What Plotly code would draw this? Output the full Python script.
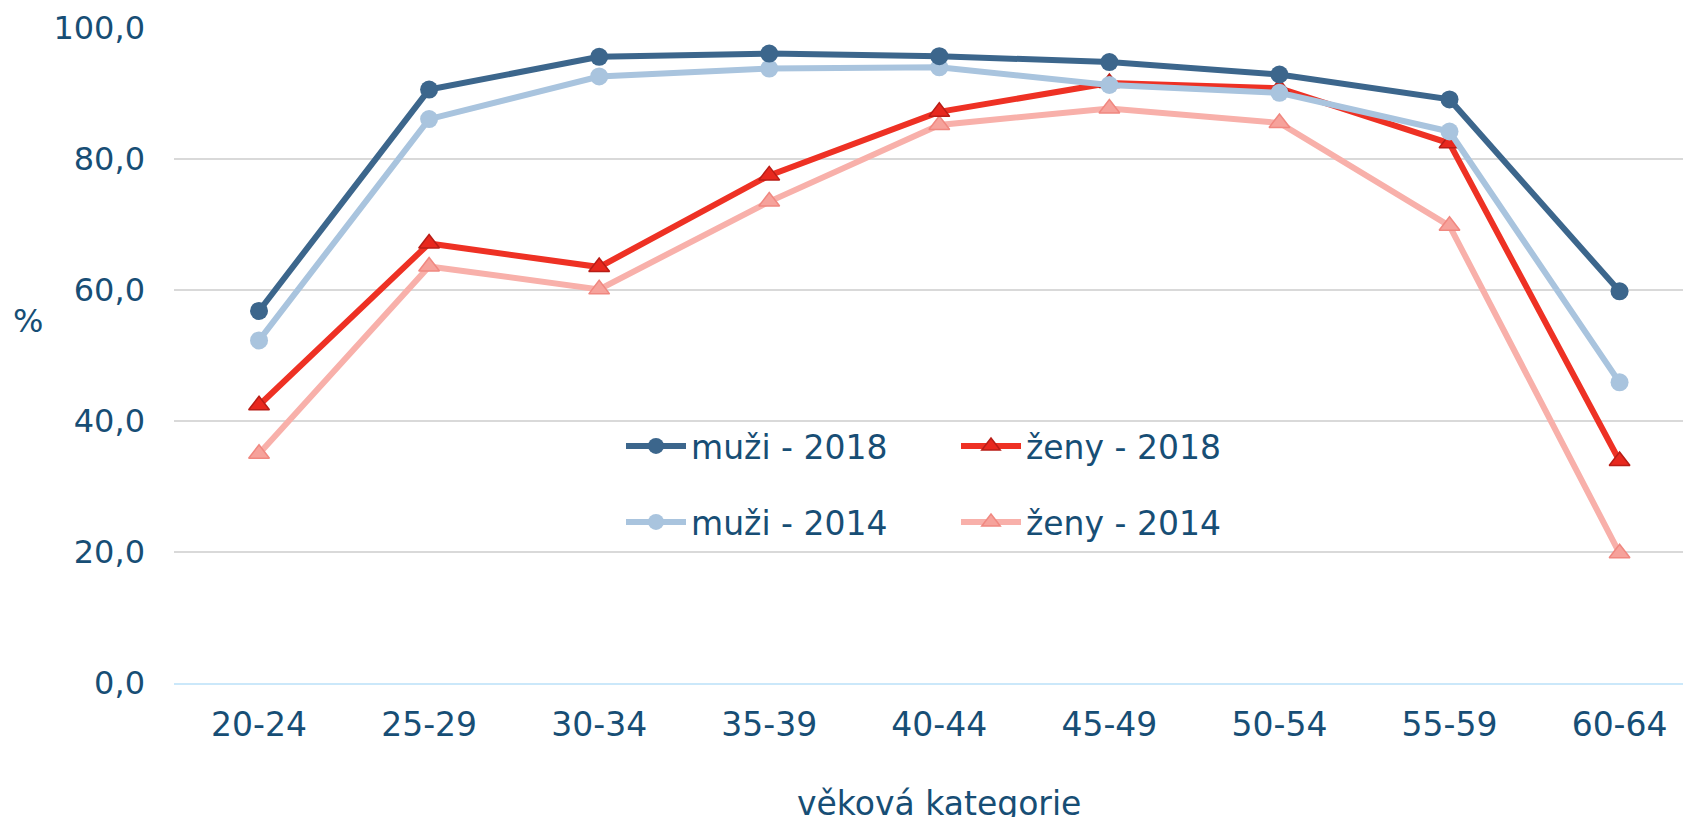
import plotly.graph_objects as go

categories = ["20-24", "25-29", "30-34", "35-39", "40-44", "45-49", "50-54", "55-59", "60-64"]
muzi_2018 = [56.8, 90.6, 95.6, 96.1, 95.7, 94.8, 92.9, 89.1, 59.8]
zeny_2018 = [42.4, 67.1, 63.5, 77.5, 87.2, 91.6, 90.8, 82.4, 33.9]
muzi_2014 = [52.3, 86.1, 92.6, 93.8, 94.0, 91.3, 90.1, 84.2, 45.9]
zeny_2014 = [35.0, 63.6, 60.1, 73.5, 85.2, 87.7, 85.5, 69.8, 19.8]
y_ticks = [0, 20, 40, 60, 80, 100]

# page body has an 8px margin -> figure is sized/offset to fill the window
W, H = 1683, 809
L, T, B = 166, 20, 134
PW, PH = W - L, H - T - B
FONT = "DejaVu Sans"
TXT = "#174E75"
FS = 33
FSY = 32

fig = go.Figure()

fig.add_trace(go.Scatter(
    x=categories, y=zeny_2014, name="ženy - 2014", mode="lines+markers",
    line=dict(color="#F8B0AA", width=6),
    marker=dict(symbol="triangle-up", size=18, color="#F6A29B",
                line=dict(color="#F08880", width=1.5)),
    legend="legend2", legendrank=2, cliponaxis=False))
fig.add_trace(go.Scatter(
    x=categories, y=zeny_2018, name="ženy - 2018", mode="lines+markers",
    line=dict(color="#EE3124", width=6),
    marker=dict(symbol="triangle-up", size=18, color="#E8281E",
                line=dict(color="#B81D16", width=1.5)),
    legend="legend", legendrank=2, cliponaxis=False))
fig.add_trace(go.Scatter(
    x=categories, y=muzi_2014, name="muži - 2014", mode="lines+markers",
    line=dict(color="#A9C4DE", width=6),
    marker=dict(symbol="circle", size=18, color="#A9C4DE"),
    legend="legend2", legendrank=1, cliponaxis=False))
fig.add_trace(go.Scatter(
    x=categories, y=muzi_2018, name="muži - 2018", mode="lines+markers",
    line=dict(color="#3C668C", width=6),
    marker=dict(symbol="circle", size=18, color="#3C668C"),
    legend="legend", legendrank=1, cliponaxis=False))

leg_common = dict(
    orientation="h", xref="container", yref="container",
    xanchor="left", yanchor="middle",
    font=dict(family=FONT, size=FS, color=TXT),
    bgcolor="rgba(0,0,0,0)", itemwidth=60, entrywidth=260,
    traceorder="normal")

fig.update_layout(
    width=W, height=H,
    margin=dict(l=L, r=0, t=T, b=B, autoexpand=False),
    paper_bgcolor="white", plot_bgcolor="white",
    separators=", ",
    font=dict(family=FONT, size=FS, color=TXT),
    showlegend=True,
    legend=dict(x=613 / W, y=1 - 438 / H, **leg_common),
    legend2=dict(x=613 / W, y=1 - 514 / H, **leg_common),
    xaxis=dict(
        type="category", range=[-0.5, 8.42],
        showgrid=False, showline=True, linecolor="#CBE8FA", linewidth=2,
        ticks="", tickfont=dict(family=FONT, size=FS, color=TXT),
        ticklabelstandoff=11, zeroline=False),
    yaxis=dict(
        range=[0, 100], tickvals=y_ticks, tickformat=".1f",
        showgrid=True, gridcolor="#D9D9D9", gridwidth=2,
        showline=False, zeroline=False, ticks="",
        tickfont=dict(family=FONT, size=FSY, color=TXT),
        ticklabelstandoff=28),
    annotations=[
        dict(text="%", xref="paper", yref="paper", x=(20 - L) / PW,
             y=(T + PH - 313) / PH, showarrow=False, xanchor="center", yanchor="middle",
             font=dict(family=FONT, size=FSY, color=TXT)),
        dict(text="věková kategorie", xref="x", yref="paper", x=4,
             y=(T + PH - 795) / PH, showarrow=False, xanchor="center", yanchor="middle",
             font=dict(family=FONT, size=FS, color=TXT)),
    ],
)

fig.write_html("out.html")
